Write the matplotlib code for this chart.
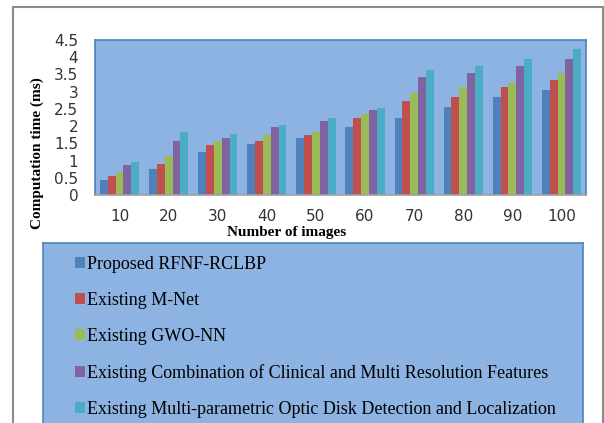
import matplotlib.pyplot as plt
from matplotlib.patches import Rectangle, Patch
import numpy as np

categorias = ['10', '20', '30', '40', '50', '60', '70', '80', '90', '100']
proposto = [0.44, 0.75, 1.25, 1.48, 1.65, 1.96, 2.24, 2.55, 2.85, 3.05]
mnet = [0.55, 0.89, 1.45, 1.56, 1.75, 2.24, 2.73, 2.85, 3.13, 3.33]
gwo = [0.66, 1.14, 1.56, 1.75, 1.84, 2.34, 2.96, 3.13, 3.24, 3.55]
clinico = [0.86, 1.56, 1.65, 1.96, 2.15, 2.46, 3.44, 3.55, 3.75, 3.94]
optico = [0.97, 1.84, 1.76, 2.03, 2.24, 2.54, 3.63, 3.75, 3.94, 4.23]

series = [proposto, mnet, gwo, clinico, optico]
nomes = ['Proposed RFNF-RCLBP',
         'Existing M-Net',
         'Existing GWO-NN',
         'Existing Combination of Clinical and Multi Resolution Features',
         'Existing Multi-parametric Optic Disk Detection and Localization']
cores = ['#4F81BD', '#C0504D', '#9BBB59', '#8064A2', '#4BACC6']
fundo = '#8DB3E2'

fig = plt.figure(figsize=(6.04, 4.23), dpi=100)
fig.patch.set_facecolor('white')

# moldura cinza externa
fig.patches.append(Rectangle((13/604, -0.05), 590/604, 1.05 - 7/423,
                             transform=fig.transFigure, fill=False,
                             edgecolor='#8c8c8c', linewidth=1.5))

ax = fig.add_axes([95/604, 1 - 195/423, 491/604, 155/423])
ax.set_facecolor(fundo)

x = np.arange(len(categorias))
w = 0.16
for i, (s, c) in enumerate(zip(series, cores)):
    ax.bar(x + (i - 2) * w, s, w, color=c, edgecolor='none')

ax.set_xlim(-0.5, len(categorias) - 0.5)
ax.set_ylim(0, 4.5)
ax.set_yticks(np.arange(0, 4.51, 0.5))
ax.set_yticklabels(['0', '0.5', '1', '1.5', '2', '2.5', '3', '3.5', '4', '4.5'])
ax.set_xticks(x)
ax.set_xticklabels(categorias)
ax.tick_params(length=0, labelsize=11, pad=10)
ax.tick_params(axis='y', pad=12)
for lbl in ax.get_xticklabels() + ax.get_yticklabels():
    lbl.set_fontfamily('DejaVu Sans')
    lbl.set_color('#333333')
for lado in ['top', 'right', 'left']:
    ax.spines[lado].set_color('#4F81BD')
    ax.spines[lado].set_linewidth(1.2)
ax.spines['bottom'].set_color('#a0a0a0')
ax.spines['bottom'].set_linewidth(1.2)

ax.set_xlabel('Number of images', fontfamily='Liberation Serif', fontweight='bold',
              fontsize=11)
ax.set_ylabel('Computation time (ms)', fontfamily='Liberation Serif', fontweight='bold',
              fontsize=11)
ax.xaxis.set_label_coords(0.39, -0.24)
ax.yaxis.set_label_coords(-0.118, 0.27)
ax.xaxis.label.set_va('center')
ax.yaxis.label.set_va('center')

# caixa da legenda
axl = fig.add_axes([43/604, -0.05, 540/604, 1.05 - 243/423])
axl.set_facecolor(fundo)
axl.set_xticks([])
axl.set_yticks([])
for lado in axl.spines:
    axl.spines[lado].set_color('#4F81BD')
    axl.spines[lado].set_linewidth(1.2)

handles = [Patch(facecolor=c, edgecolor='none') for c in cores]
leg = axl.legend(handles, nomes, loc='upper left', bbox_to_anchor=(0.028, 1.02),
                 frameon=False, prop={'family': 'Liberation Serif', 'size': 13},
                 handlelength=0.55, handleheight=0.55, handletextpad=0.1,
                 labelspacing=1.05, borderaxespad=0.55)

plt.savefig('out.png', dpi=100)
